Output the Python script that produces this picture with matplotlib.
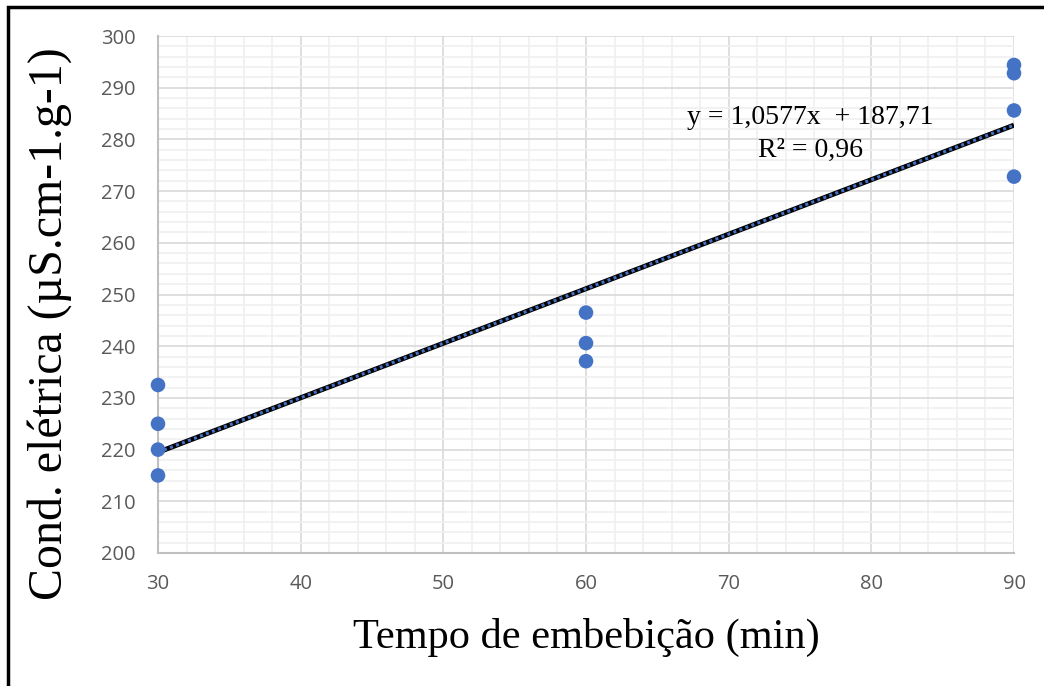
import matplotlib
matplotlib.use("Agg")
import matplotlib.pyplot as plt
from matplotlib.patches import Rectangle
from matplotlib.ticker import MultipleLocator
import numpy as np

# tempo de embebicao (min) e condutividade eletrica
tempo = [30, 30, 30, 30, 60, 60, 60, 90, 90, 90, 90]
cond = [232.5, 225.0, 220.0, 215.0, 246.5, 240.6, 237.1, 294.4, 292.8, 285.6, 272.8]
eq_text = "y = 1,0577x  + 187,71"
r2_text = "R² = 0,96"

W, H = 1044, 686
fig = plt.figure(figsize=(W/100, H/100), dpi=100)
ax = fig.add_axes([158/W, 1-553/H, (1014-158)/W, (553-36)/H])

ax.set_xlim(30, 90)
ax.set_ylim(200, 300)
ax.xaxis.set_major_locator(MultipleLocator(10))
ax.xaxis.set_minor_locator(MultipleLocator(2))
ax.yaxis.set_major_locator(MultipleLocator(10))
ax.yaxis.set_minor_locator(MultipleLocator(2))
ax.grid(which="major", color="#d9d9d9", lw=1.2)
ax.grid(which="minor", color="#f0f0f0", lw=1.2)
ax.set_axisbelow(True)
for s in ["top", "right"]:
    ax.spines[s].set_visible(False)
for s in ["left", "bottom"]:
    ax.spines[s].set_color("#bfbfbf")
    ax.spines[s].set_linewidth(1.5)
ax.tick_params(which="both", length=0, labelsize=14.5, labelcolor="#595959")
ax.tick_params(axis="y", pad=16)
ax.tick_params(axis="x", pad=15)
for lab in ax.get_xticklabels() + ax.get_yticklabels():
    lab.set_family("Open Sans")

# linha de tendencia
coef = np.polyfit(tempo, cond, 1)
xs = np.array([30, 90])
ax.plot(xs, np.polyval(coef, xs), color="black", lw=3.6, solid_capstyle="butt", zorder=3)
ax.plot(xs, np.polyval(coef, xs), color="#4472C4", lw=2.2, ls=(0, (1, 1.1)), zorder=4)

ax.scatter(tempo, cond, s=110, color="#4472C4", zorder=5, clip_on=False, edgecolors="none")

fig.text(810/W, 1-117/H, eq_text, fontsize=20, family="Liberation Serif",
         ha="center", va="center")
fig.text(810/W, 1-150/H, r2_text, fontsize=20, family="Liberation Serif",
         ha="center", va="center")

fig.text(586/W, 1-637/H, "Tempo de embebição (min)", fontsize=30.5,
         family="Liberation Serif", ha="center", va="center")
fig.text(50/W, 1-324/H, "Cond. elétrica (µS.cm-1.g-1)", fontsize=34.5,
         family="Liberation Serif", ha="center", va="center", rotation=90)

# moldura
fig.patches.append(Rectangle((8/W, -0.1), 1.2, 1.1 - 7/H, transform=fig.transFigure,
                             fill=False, edgecolor="black", lw=2.5))

fig.savefig("out.png", dpi=100)
